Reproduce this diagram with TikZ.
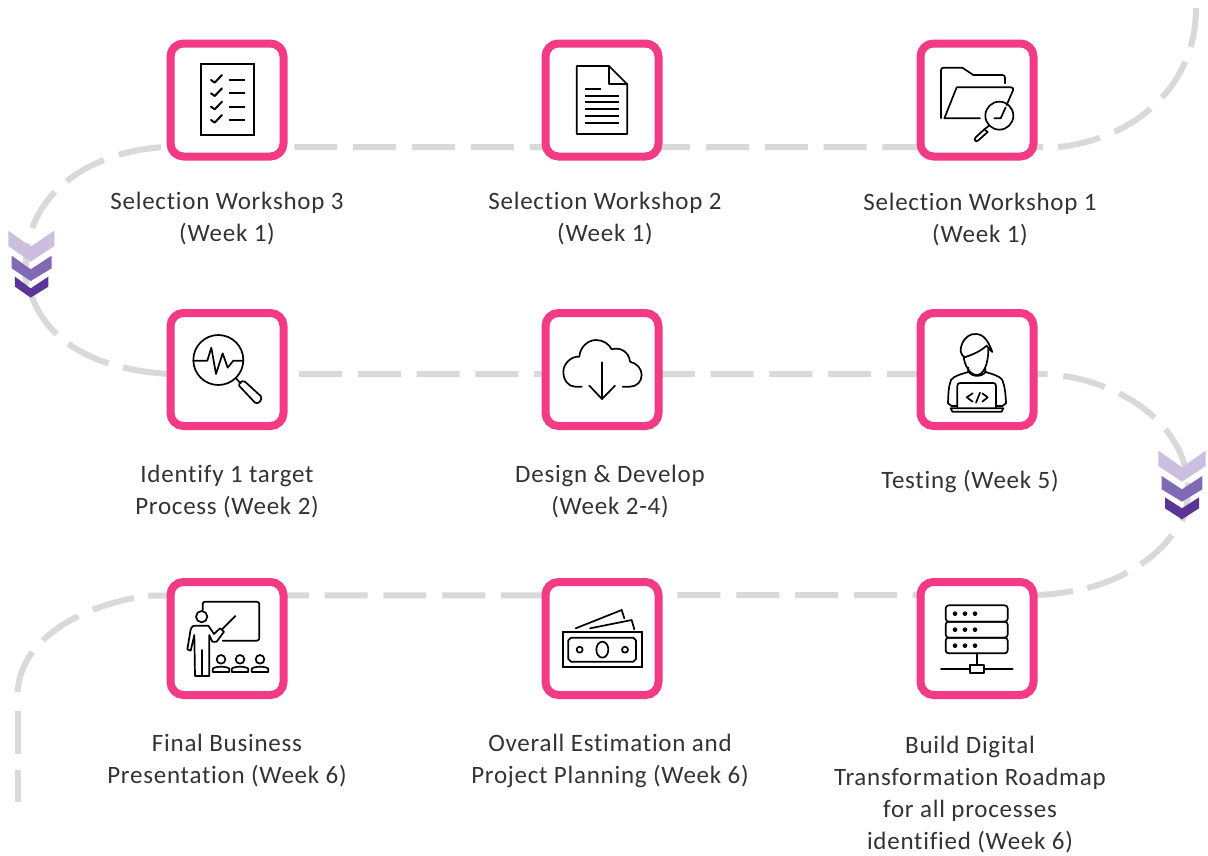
\documentclass[tikz,border=0pt]{standalone}
\usepackage{fontspec}
\setmainfont[LetterSpace=3,Ligatures=CommonOff]{Carlito}
\definecolor{pinkbox}{HTML}{F33A85}
\definecolor{road}{HTML}{D9D9D9}
\definecolor{chevA}{HTML}{CBBEDF}
\definecolor{chevB}{HTML}{8069B5}
\definecolor{chevC}{HTML}{5B3596}
\definecolor{labeltext}{HTML}{333333}
\tikzset{
  stepbox/.style={draw=pinkbox,fill=white,line width=8pt,rounded corners=13pt,minimum width=113pt,minimum height=113pt,inner sep=0pt},
  roadline/.style={draw=road,line width=6pt,dash pattern=on 43pt off 15.8pt},
  steplabel/.style={align=center,text=labeltext,font=\fontsize{25}{32}\selectfont,inner sep=0pt},
  ico/.style={draw=black,line width=1.7pt,line cap=round,line join=round},
  iconframe/.style={x=0.33333pt,y=-0.33333pt}
}
\begin{document}
\begin{tikzpicture}[x=1pt,y=-1pt]
\useasboundingbox[fill=white] (0,0) rectangle (1208,855);
% path anchors
\coordinate (start) at (1196,8);
\coordinate (a0) at (1058,147);
\coordinate (r1e) at (1043,147);
\coordinate (r1w) at (167,147);
\coordinate (bendL) at (26,285);
\coordinate (c0) at (32,297);
\coordinate (r2w) at (170,374);
\coordinate (c1) at (299,374);
\coordinate (r2e) at (1037,374);
\coordinate (bendR) at (1188,490);
\coordinate (endR) at (1182,521);
\coordinate (d0) at (1172,535);
\coordinate (d1) at (1073,591);
\coordinate (r3e) at (1030,595);
\coordinate (r3w) at (148,595.5);
\coordinate (e0) at (134,598);
\coordinate (e1) at (17.5,696);
\coordinate (f0) at (18,711);
\coordinate (finish) at (18,802);
\draw[roadline] (a0) .. controls (1130,140) and (1196,90) .. (start);
\draw[roadline] (r1e) -- (r1w) .. controls (95,150) and (26,190) .. (26,265) -- (bendL);
\draw[roadline,dash pattern=on 45pt off 15pt] (c0) .. controls (50,345) and (100,370) .. (r2w);
\draw[roadline] (c1) -- (r2e) .. controls (1110,374) and (1188,420) .. (bendR) .. controls (1188,500) and (1186,512) .. (endR);
\draw[roadline] (d0) .. controls (1150,565) and (1110,585) .. (d1);
\draw[roadline] (d1) .. controls (1060,593) and (1050,595) .. (r3e) -- (r3w);
\draw[roadline] (e0) .. controls (80,608) and (17.5,640) .. (e1);
\draw[roadline] (f0) -- (finish);
% chevrons
\begin{scope}[shift={(0,140)},iconframe]
\fill[chevA] (25,272)--(92,320)--(163,272)--(163,318)--(92,365)--(25,318)--cycle;
\fill[chevB] (35,347)--(92,388)--(155,347)--(155,385)--(92,423)--(35,385)--cycle;
\fill[chevC] (45,410)--(92,445)--(145,410)--(145,440)--(92,473)--(45,440)--cycle;
\end{scope}
\begin{scope}[shift={(1030,360)},iconframe]
\fill[chevA] (385,272)--(456,322)--(527,272)--(527,318)--(456,365)--(385,318)--cycle;
\fill[chevB] (395,348)--(456,388)--(517,348)--(517,388)--(456,425)--(395,388)--cycle;
\fill[chevC] (405,412)--(456,445)--(507,412)--(507,445)--(456,478)--(405,445)--cycle;
\end{scope}
% boxes
\node[stepbox] (b1) at (227,100) {};
\node[stepbox] (b2) at (602,100) {};
\node[stepbox] (b3) at (977,100) {};
\node[stepbox] (b4) at (227,369.5) {};
\node[stepbox] (b5) at (602,369.5) {};
\node[stepbox] (b6) at (977,369.5) {};
\node[stepbox] (b7) at (227,638.5) {};
\node[stepbox] (b8) at (602,638.5) {};
\node[stepbox] (b9) at (977,638.5) {};
% labels
\node[steplabel] (t1) at (227,218.5) {Selection Workshop 3\\(Week 1)};
\node[steplabel] (t2) at (605,218.5) {Selection Workshop 2\\(Week 1)};
\node[steplabel] (t3) at (980,219.5) {Selection Workshop 1\\(Week 1)};
\node[steplabel] (t4) at (227,491.5) {Identify 1 target\\Process (Week 2)};
\node[steplabel] (t5) at (610,491.5) {Design \& Develop\\(Week 2-4)};
\node[steplabel] (t6) at (970,481.5) {Testing (Week 5)};
\node[steplabel] (t7) at (227,760.5) {Final Business\\Presentation (Week 6)};
\node[steplabel] (t8) at (610,760.5) {Overall Estimation and\\Project Planning (Week 6)};
\node[steplabel] (t9) at (970,795) {Build Digital\\Transformation Roadmap\\for all processes\\identified (Week 6)};
% icon 1
\begin{scope}[shift={(150,30)},iconframe]
\draw[ico,line cap=butt,line join=miter] (153,103) rectangle (311,316);
\foreach \yy in {150,190,230,270}{
  \draw[ico,line width=2pt] (183,\yy) -- (194,\yy+8) -- (216,\yy-15);
  \draw[ico,line cap=butt] (236,\yy) -- (286,\yy);
}
\end{scope}
% icon 2
\begin{scope}[shift={(530,30)},iconframe]
\draw[ico] (140,108) -- (237,108) -- (292,163) -- (292,312) -- (140,312) -- cycle;
\draw[ico] (237,108) -- (237,163) -- (292,163);
\draw[ico,line cap=butt] (165,176) -- (214,176);
\foreach \yy in {197,217,238,258,279}{\draw[ico,line cap=butt] (165,\yy) -- (268,\yy);}
\end{scope}
% icon 3
\begin{scope}[shift={(905,30)},iconframe]
\draw[ico] (108,265) -- (108,122) .. controls (108,116) and (110,113) .. (116,113) -- (172,113) -- (205,135) -- (292,135) .. controls (297,135) and (300,138) .. (300,143) -- (300,160);
\draw[ico] (225,265) -- (118,265) -- (155,172) -- (318,172) .. controls (324,172) and (326,176) .. (324,181) -- (305,225);
\draw[ico] (302,232) -- (287,265) -- (268,265);
\draw[ico] (283,257) circle[radius=42];
\draw[ico] (252,287) -- (238,298);
\draw[ico] (238,298) -- (212,322) .. controls (205,330) and (212,338) .. (220,331) -- (248,306) -- (238,298);
\end{scope}
% icon 4
\begin{scope}[shift={(150,300)},iconframe]
\draw[ico] (205,180) circle[radius=75];
\draw[ico] (130,182) -- (172,182) -- (184,143) -- (198,222) -- (218,160) -- (233,203) -- (250,182) -- (280,182);
\draw[ico] (258,235) -- (272,250);
\draw[ico] (268,258) .. controls (265,250) and (275,240) .. (285,245) -- (332,288) .. controls (340,298) and (325,315) .. (315,308) -- cycle;
\end{scope}
% icon 5
\begin{scope}[shift={(530,300)},iconframe]
\draw[ico] (155,260) -- (135,260) .. controls (115,260) and (100,240) .. (100,215) .. controls (100,190) and (125,168) .. (148,170) .. controls (150,140) and (175,120) .. (198,120) .. controls (220,120) and (237,132) .. (245,148) .. controls (270,140) and (297,155) .. (300,185) .. controls (320,190) and (335,205) .. (335,225) .. controls (335,245) and (320,260) .. (300,260) -- (278,260);
\draw[ico] (216,187) -- (216,297);
\draw[ico] (178,257) -- (216,297) -- (255,257);
\end{scope}
% icon 6
\begin{scope}[shift={(905,300)},iconframe]
\draw[ico] (178,172) .. controls (165,160) and (165,150) .. (170,135) .. controls (178,112) and (195,100) .. (215,102) .. controls (240,104) and (252,130) .. (262,156) .. controls (256,152) and (250,145) .. (245,137) .. controls (225,155) and (200,165) .. (178,172) -- cycle;
\draw[ico] (176,170) .. controls (178,195) and (195,225) .. (215,225) .. controls (235,225) and (250,195) .. (250,147);
\draw[ico] (190,203) -- (190,216) .. controls (170,222) and (145,228) .. (138,240) .. controls (130,260) and (130,285) .. (129,310) -- (140,318) -- (155,318);
\draw[ico] (190,214) .. controls (200,232) and (232,232) .. (243,214);
\draw[ico] (241,205) -- (241,216) .. controls (262,222) and (285,228) .. (292,240) .. controls (300,260) and (302,285) .. (303,310) -- (292,318) -- (275,318);
\draw[ico] (157,322) -- (157,258) .. controls (157,252) and (160,249) .. (165,249) -- (265,249) .. controls (270,249) and (273,252) .. (273,258) -- (273,322);
\draw[ico] (137,325) -- (295,325) -- (290,335) -- (142,335) -- cycle;
\draw[ico] (203,280) -- (185,292) -- (203,305);
\draw[ico] (213,308) -- (225,278);
\draw[ico] (232,280) -- (248,292) -- (232,305);
\end{scope}
% icon 7
\begin{scope}[shift={(150,570)},iconframe]
\draw[ico] (158,120) -- (158,103) .. controls (158,97) and (161,95) .. (166,95) -- (320,95) .. controls (325,95) and (328,98) .. (328,103) -- (328,204) .. controls (328,209) and (325,212) .. (320,212) -- (218,212);
\draw[ico] (256,138) -- (216,178);
\draw[ico] (155,140) circle[radius=17];
\draw[ico] (135,318) -- (178,318) -- (178,195) -- (187,215) -- (200,215) -- (222,185) -- (210,175) -- (192,192) -- (175,167) -- (135,167) .. controls (125,167) and (122,175) .. (120,190) -- (112,238) -- (122,242) -- (133,195) -- (135,318);
\draw[ico] (156,240) -- (156,318);
\foreach \xx in {213,270,330}{
  \draw[ico] (\xx,268) circle[radius=13];
  \draw[ico] (\xx-25,306) -- (\xx-25,297) .. controls (\xx-22,288) and (\xx+22,288) .. (\xx+25,297) -- (\xx+25,306) -- cycle;
}
\end{scope}
% icon 8
\begin{scope}[shift={(530,570)},iconframe]
\draw[ico,line cap=butt,line join=miter] (98,185) rectangle (335,292);
\draw[ico] (123,203) -- (310,203) -- (318,211) -- (318,267) -- (310,275) -- (123,275) -- (115,267) -- (115,211) -- cycle;
\draw[ico] (149,239) circle[radius=9];
\draw[ico] (285,239) circle[radius=9];
\draw[ico] (217,239) ellipse[x radius=18,y radius=24];
\draw[ico] (137,175) -- (275,120) -- (283,145);
\draw[ico] (180,175) -- (305,150) -- (313,178);
\end{scope}
% icon 9
\begin{scope}[shift={(905,570)},iconframe]
\foreach \ya/\yb/\yc in {106/155/131,155/203/179,203/250/227}{
  \draw[ico,rounded corners=3pt] (122,\ya) rectangle (308,\yb);
  \foreach \xx in {150,180,210}{\fill (\xx,\yc) circle[radius=7];}
}
\draw[ico] (216,250) -- (216,285);
\draw[ico,line cap=butt] (194,285) rectangle (238,308);
\draw[ico] (108,296) -- (194,296);
\draw[ico] (238,296) -- (323,296);
\end{scope}
\end{tikzpicture}
\end{document}
